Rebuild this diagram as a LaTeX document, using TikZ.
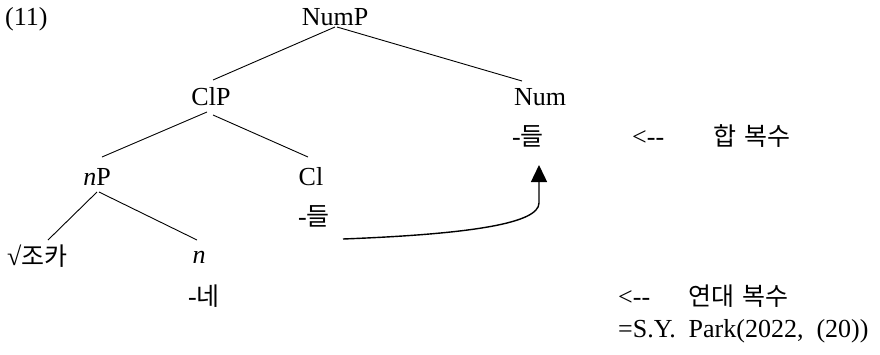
\documentclass[tikz,border=0pt]{standalone}
\usepackage{fontspec}
\setmainfont{Liberation Serif}
\newfontfamily\krfont{Noto Sans CJK KR}
\usetikzlibrary{arrows.meta}
\newcommand{\kr}[1]{{\krfont\fontsize{25pt}{29pt}\selectfont #1}}
\begin{document}
\begin{tikzpicture}[x=1pt,y=-1pt,
  lbl/.style={inner sep=0pt,font=\fontsize{26pt}{30pt}\selectfont},
  cat/.style={lbl,anchor=base},
  txt/.style={lbl,anchor=base west},
  branch/.style={line width=0.9pt},
  move/.style={line width=1.4pt,-{Triangle[length=17pt,width=16pt]}}]
\useasboundingbox (0,0) rectangle (880,354);
% labels
\node[txt] (ex) at (5,25) {(11)};
\node[cat] (NumP) at (335,25) {NumP};
\node[cat] (ClP) at (211,105) {ClP};
\node[cat] (Num) at (540,105) {Num};
\node[txt] (numsuf) at (512,145) {-\kr{들}};
\node[txt] (arr1) at (632,145) {<{-}{-}};
\node[txt] (gloss1) at (713,145) {\kr{합\,\,복수}};
\node[cat] (nP) at (97,185) {\textit{n}P};
\node[cat] (Cl) at (311,185) {Cl};
\node[txt] (clsuf) at (298,225) {-\kr{들}};
\node[txt] (root) at (7,265) {√\kr{조카}};
\node[cat] (n) at (199,263) {\textit{n}};
\node[txt] (nsuf) at (188,305) {-\kr{네}};
\node[txt] (arr2) at (618,305) {<{-}{-}};
\node[txt] (gloss2) at (688,305) {\kr{연대\,\,복수}};
\node[txt] (src) at (618,337) {=S.Y.\ \ Park(2022,\ \ (20))};
% branches
\draw[branch] ([yshift=-2pt]NumP.base) -- ([xshift=2pt,yshift=25pt]ClP.base);
\draw[branch] ([xshift=2pt,yshift=-2pt]NumP.base) -- ([xshift=-18pt,yshift=24pt]Num.base);
\draw[branch] ([xshift=-4pt,yshift=-7pt]ClP.base) -- ([xshift=5pt,yshift=28pt]nP.base);
\draw[branch] ([xshift=2pt,yshift=-10pt]ClP.base) -- ([xshift=-3pt,yshift=28pt]Cl.base);
\draw[branch] ([yshift=-7pt]nP.base) -- ([xshift=41pt,yshift=25pt]root.base west);
\draw[branch] ([xshift=2pt,yshift=-7pt]nP.base) -- ([xshift=-2pt,yshift=23pt]n.base);
% movement arrow
\coordinate (mvA) at ([xshift=45pt,yshift=-14pt]clsuf.base west);
\coordinate (mvB) at ([xshift=27pt,yshift=-20pt]numsuf.base west);
\draw[move] (mvA) .. controls +(130,-5) and +(0,20) .. ([yshift=-38pt]mvB) -- (mvB);
\end{tikzpicture}
\end{document}
